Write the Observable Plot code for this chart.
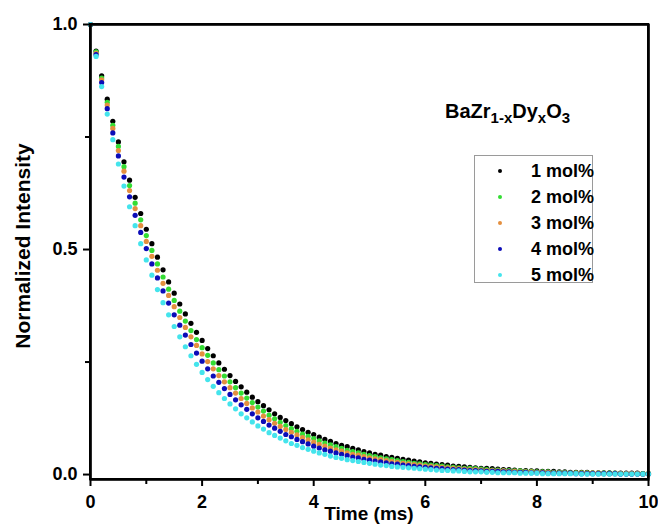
<!DOCTYPE html>
<html>
<head>
<meta charset="utf-8">
<script src="https://cdn.jsdelivr.net/npm/d3@7"></script>
<script src="https://cdn.jsdelivr.net/npm/@observablehq/plot@0.6"></script>
<style>
  body { margin: 0; background: #fff; }
  #wrap { position: relative; width: 658px; height: 529px; font-family: "Liberation Sans", Arial, sans-serif; font-weight: bold; color: #000; }
  #wrap svg { position: absolute; left: 0; top: 0; }
  #box { position: absolute; left: 89px; top: 23px; width: 560px; height: 457px; border: 2px solid #000; box-sizing: border-box; z-index: 3; pointer-events: none; }
  .ov { position: absolute; white-space: nowrap; line-height: 1; z-index: 4; }
  #ylab { left: 22px; top: 246px; font-size: 21px; transform: translate(-50%, -50%) rotate(-90deg); }
  #xlab { left: 369px; top: 504px; font-size: 19px; transform: translateX(-50%); }
  #formula { left: 445px; top: 101px; font-size: 20px; }
  #formula .sb { font-size: 15px; position: relative; top: 5px; }
  #keybox { left: 474px; top: 155px; width: 119px; height: 128px; border: 1px solid #9a9a9a; box-sizing: border-box; padding-top: 2px; }
  .lrow { display: flex; align-items: center; height: 26px; font-size: 18px; }
  .ldot { flex: none; width: 4px; height: 4px; border-radius: 50%; margin-left: 23px; margin-right: 29px; }
</style>
</head>
<body>
<div id="wrap"></div>
<script>
const times = [0.0,0.1,0.2,0.3,0.4,0.5,0.6,0.7,0.8,0.9,
1.0,1.1,1.2,1.3,1.4,1.5,1.6,1.7,1.8,1.9,
2.0,2.1,2.2,2.3,2.4,2.5,2.6,2.7,2.8,2.9,
3.0,3.1,3.2,3.3,3.4,3.5,3.6,3.7,3.8,3.9,
4.0,4.1,4.2,4.3,4.4,4.5,4.6,4.7,4.8,4.9,
5.0,5.1,5.2,5.3,5.4,5.5,5.6,5.7,5.8,5.9,
6.0,6.1,6.2,6.3,6.4,6.5,6.6,6.7,6.8,6.9,
7.0,7.1,7.2,7.3,7.4,7.5,7.6,7.7,7.8,7.9,
8.0,8.1,8.2,8.3,8.4,8.5,8.6,8.7,8.8,8.9,
9.0,9.1,9.2,9.3,9.4,9.5,9.6,9.7,9.8,9.9,
10.0];

const mol1 = [1.000,0.941,0.886,0.834,0.785,0.739,0.695,0.654,0.616,0.580,
0.545,0.513,0.483,0.455,0.428,0.403,0.379,0.357,0.336,0.316,
0.298,0.280,0.264,0.248,0.234,0.220,0.207,0.195,0.183,0.172,
0.162,0.153,0.144,0.135,0.127,0.120,0.113,0.106,0.100,0.094,
0.089,0.083,0.078,0.074,0.069,0.065,0.062,0.058,0.055,0.051,
0.048,0.045,0.043,0.040,0.038,0.036,0.034,0.032,0.030,0.028,
0.026,0.025,0.023,0.022,0.021,0.019,0.018,0.017,0.016,0.015,
0.014,0.014,0.013,0.012,0.011,0.011,0.010,0.009,0.009,0.008,
0.008,0.007,0.007,0.007,0.006,0.006,0.005,0.005,0.005,0.005,
0.004,0.004,0.004,0.004,0.003,0.003,0.003,0.003,0.003,0.002,
0.002];

const mol2 = [1.000,0.939,0.881,0.827,0.776,0.729,0.684,0.642,0.603,0.566,
0.531,0.498,0.468,0.439,0.412,0.387,0.363,0.341,0.320,0.300,
0.282,0.265,0.248,0.233,0.219,0.206,0.193,0.181,0.170,0.160,
0.150,0.141,0.132,0.124,0.116,0.109,0.102,0.096,0.090,0.085,
0.080,0.075,0.070,0.066,0.062,0.058,0.054,0.051,0.048,0.045,
0.042,0.040,0.037,0.035,0.033,0.031,0.029,0.027,0.025,0.024,
0.022,0.021,0.020,0.019,0.017,0.016,0.015,0.014,0.014,0.013,
0.012,0.011,0.010,0.010,0.009,0.009,0.008,0.008,0.007,0.007,
0.006,0.006,0.006,0.005,0.005,0.005,0.004,0.004,0.004,0.004,
0.003,0.003,0.003,0.003,0.003,0.002,0.002,0.002,0.002,0.002,
0.002];

const mol3 = [1.000,0.936,0.877,0.821,0.769,0.720,0.674,0.631,0.591,0.553,
0.518,0.485,0.454,0.425,0.398,0.373,0.349,0.327,0.306,0.287,
0.268,0.251,0.235,0.220,0.206,0.193,0.181,0.169,0.158,0.148,
0.139,0.130,0.122,0.114,0.107,0.100,0.094,0.088,0.082,0.077,
0.072,0.067,0.063,0.059,0.055,0.052,0.048,0.045,0.043,0.040,
0.037,0.035,0.033,0.031,0.029,0.027,0.025,0.024,0.022,0.021,
0.019,0.018,0.017,0.016,0.015,0.014,0.013,0.012,0.011,0.011,
0.010,0.009,0.009,0.008,0.008,0.007,0.007,0.006,0.006,0.006,
0.005,0.005,0.005,0.004,0.004,0.004,0.003,0.003,0.003,0.003,
0.003,0.003,0.002,0.002,0.002,0.002,0.002,0.002,0.002,0.001,
0.001];

const mol4 = [1.000,0.933,0.871,0.813,0.759,0.708,0.661,0.617,0.576,0.538,
0.502,0.468,0.437,0.408,0.381,0.355,0.332,0.310,0.289,0.270,
0.252,0.235,0.219,0.205,0.191,0.178,0.166,0.155,0.145,0.135,
0.126,0.118,0.110,0.103,0.096,0.089,0.084,0.078,0.073,0.068,
0.063,0.059,0.055,0.052,0.048,0.045,0.042,0.039,0.037,0.034,
0.032,0.030,0.028,0.026,0.024,0.023,0.021,0.020,0.018,0.017,
0.016,0.015,0.014,0.013,0.012,0.011,0.011,0.010,0.009,0.009,
0.008,0.007,0.007,0.007,0.006,0.006,0.005,0.005,0.005,0.004,
0.004,0.004,0.003,0.003,0.003,0.003,0.003,0.002,0.002,0.002,
0.002,0.002,0.002,0.002,0.002,0.001,0.001,0.001,0.001,0.001,
0.001];

const mol5 = [1.000,0.929,0.862,0.801,0.744,0.690,0.641,0.595,0.553,0.513,
0.477,0.443,0.411,0.382,0.355,0.329,0.306,0.284,0.264,0.245,
0.227,0.211,0.196,0.182,0.169,0.157,0.146,0.135,0.126,0.117,
0.108,0.101,0.093,0.087,0.081,0.075,0.069,0.065,0.060,0.056,
0.052,0.048,0.045,0.041,0.038,0.036,0.033,0.031,0.029,0.027,
0.025,0.023,0.021,0.020,0.018,0.017,0.016,0.015,0.014,0.013,
0.012,0.011,0.010,0.009,0.009,0.008,0.008,0.007,0.006,0.006,
0.006,0.005,0.005,0.004,0.004,0.004,0.004,0.003,0.003,0.003,
0.003,0.002,0.002,0.002,0.002,0.002,0.002,0.002,0.001,0.001,
0.001,0.001,0.001,0.001,0.001,0.001,0.001,0.001,0.001,0.001,
0.001];

const seriesNames = ["1 mol%", "2 mol%", "3 mol%", "4 mol%", "5 mol%"];
const seriesColors = ["#000000", "#33dd33", "#e48f3f", "#0c0cb8", "#44e4ec"];
const xMajor = [0, 2, 4, 6, 8, 10];
const xMinor = [1, 3, 5, 7, 9];
const yMajor = [0, 0.5, 1.0];
const yMinor = [0.25, 0.75];
const xDomain = [0, 10];
const yDomain = [-0.011, 1.0];

const seriesValues = [mol1, mol2, mol3, mol4, mol5];
const decayRows = [];
seriesNames.forEach((name, i) => {
  seriesValues[i].forEach((v, j) => decayRows.push({t: times[j], v: v, s: name}));
});

const chart = Plot.plot({
  width: 658,
  height: 529,
  marginLeft: 90,
  marginRight: 10,
  marginTop: 24,
  marginBottom: 50,
  style: {fontFamily: "'Liberation Sans', Arial, sans-serif", fontWeight: "bold", fontSize: "18px", color: "#000", background: "transparent", overflow: "visible"},
  x: {domain: xDomain},
  y: {domain: yDomain},
  color: {domain: seriesNames, range: seriesColors},
  marks: [
    Plot.dot(decayRows, {x: "t", y: "v", fill: "s", r: 2.6}),
    Plot.frame({stroke: "#000", strokeWidth: 2.2}),
    Plot.ruleX(xDomain, {stroke: "#000", strokeWidth: 2.2}),
    Plot.ruleY(yDomain, {stroke: "#000", strokeWidth: 2.2}),
    Plot.axisX(xMajor, {tickSize: 7, tickPadding: 9, strokeWidth: 2, label: null, tickFormat: d => String(d)}),
    Plot.axisX(xMinor, {tickSize: 5, strokeWidth: 2, label: null, tickFormat: () => ""}),
    Plot.axisY(yMajor, {tickSize: 7, tickPadding: 6, strokeWidth: 2, label: null, tickFormat: d => d.toFixed(1)}),
    Plot.axisY(yMinor, {tickSize: 5, strokeWidth: 2, label: null, tickFormat: () => ""})
  ]
});

const wrap = document.getElementById("wrap");
wrap.appendChild(chart);

const box = document.createElement("div");
box.id = "box";
wrap.appendChild(box);

const ylab = document.createElement("div");
ylab.className = "ov"; ylab.id = "ylab"; ylab.textContent = "Normalized Intensity";
wrap.appendChild(ylab);

const xlab = document.createElement("div");
xlab.className = "ov"; xlab.id = "xlab"; xlab.textContent = "Time (ms)";
wrap.appendChild(xlab);

const formula = document.createElement("div");
formula.className = "ov"; formula.id = "formula";
formula.innerHTML = 'BaZr<span class="sb">1-x</span>Dy<span class="sb">x</span>O<span class="sb">3</span>';
wrap.appendChild(formula);

const keyBox = document.createElement("div");
keyBox.className = "ov"; keyBox.id = "keybox";
seriesNames.forEach((name, i) => {
  const r = document.createElement("div");
  r.className = "lrow";
  const d = document.createElement("span");
  d.className = "ldot";
  d.style.background = seriesColors[i];
  const lab = document.createElement("span");
  lab.textContent = name;
  r.appendChild(d); r.appendChild(lab);
  keyBox.appendChild(r);
});
wrap.appendChild(keyBox);
</script>
</body>
</html>
